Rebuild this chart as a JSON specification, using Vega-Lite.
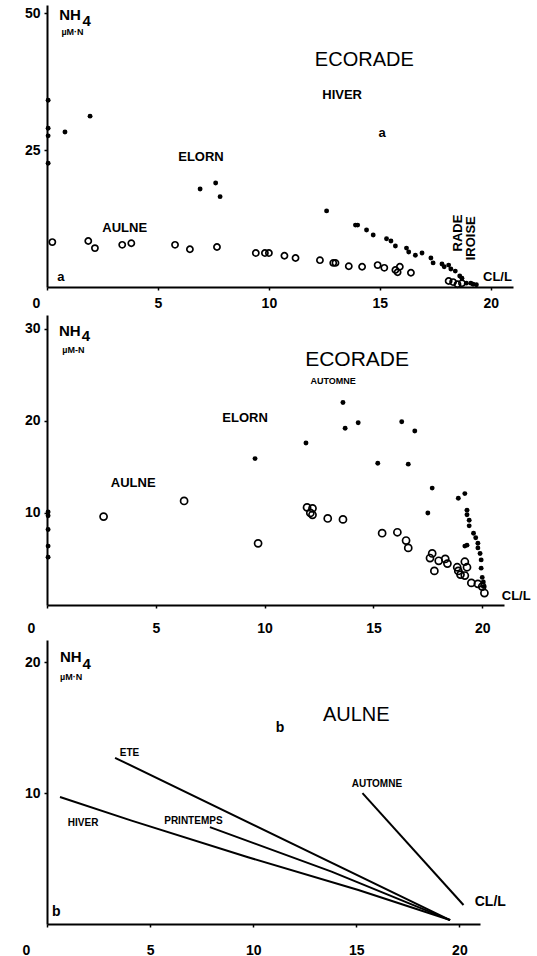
{
  "$schema": "https://vega.github.io/schema/vega-lite/v6.json",
  "padding": {"top": 5, "left": 5, "right": 5, "bottom": 0},
  "spacing": 5,
  "background": "white",
  "config": {
    "view": {"stroke": null},
    "axis": {
      "grid": false,
      "domainColor": "black",
      "domainWidth": 2,
      "tickColor": "black",
      "tickWidth": 1.5,
      "tickSize": 3,
      "labelColor": "black",
      "labelFont": "Liberation Sans",
      "labelFontWeight": "bold",
      "labelFontSize": 14
    },
    "text": {"font": "Liberation Sans", "color": "black"}
  },
  "datasets": {
    "hiver": [
      {"x": 0.05, "y": 34.1, "f": "plein"}, {"x": 0.05, "y": 29.0, "f": "plein"}, {"x": 0.05, "y": 27.6, "f": "plein"}, {"x": 0.05, "y": 22.6, "f": "plein"},
      {"x": 0.81, "y": 28.3, "f": "plein"}, {"x": 1.94, "y": 31.2, "f": "plein"}, {"x": 6.9, "y": 17.9, "f": "plein"}, {"x": 7.6, "y": 19.0, "f": "plein"}, {"x": 7.8, "y": 16.5, "f": "plein"},
      {"x": 12.6, "y": 13.9, "f": "plein"}, {"x": 13.9, "y": 11.3, "f": "plein"}, {"x": 14.0, "y": 11.3, "f": "plein"}, {"x": 14.4, "y": 10.4, "f": "plein"}, {"x": 14.7, "y": 9.5, "f": "plein"},
      {"x": 15.3, "y": 8.8, "f": "plein"}, {"x": 15.5, "y": 8.4, "f": "plein"}, {"x": 15.7, "y": 7.5, "f": "plein"}, {"x": 16.2, "y": 7.1, "f": "plein"}, {"x": 16.3, "y": 6.4, "f": "plein"},
      {"x": 16.6, "y": 5.8, "f": "plein"}, {"x": 16.9, "y": 6.2, "f": "plein"}, {"x": 17.3, "y": 5.3, "f": "plein"}, {"x": 17.4, "y": 4.4, "f": "plein"}, {"x": 17.8, "y": 4.2, "f": "plein"},
      {"x": 17.9, "y": 3.7, "f": "plein"}, {"x": 18.1, "y": 4.0, "f": "plein"}, {"x": 18.2, "y": 3.3, "f": "plein"}, {"x": 18.4, "y": 2.9, "f": "plein"}, {"x": 18.6, "y": 2.0, "f": "plein"},
      {"x": 18.7, "y": 1.6, "f": "plein"}, {"x": 18.9, "y": 0.7, "f": "plein"}, {"x": 19.1, "y": 0.7, "f": "plein"}, {"x": 19.2, "y": 0.5, "f": "plein"}, {"x": 19.35, "y": 0.4, "f": "plein"},
      {"x": 0.24, "y": 8.2, "f": "vide"}, {"x": 1.86, "y": 8.4, "f": "vide"}, {"x": 2.16, "y": 7.1, "f": "vide"}, {"x": 3.39, "y": 7.7, "f": "vide"}, {"x": 3.8, "y": 8.0, "f": "vide"},
      {"x": 5.77, "y": 7.7, "f": "vide"}, {"x": 6.44, "y": 6.9, "f": "vide"}, {"x": 7.66, "y": 7.3, "f": "vide"}, {"x": 9.41, "y": 6.2, "f": "vide"}, {"x": 9.82, "y": 6.2, "f": "vide"},
      {"x": 10.0, "y": 6.2, "f": "vide"}, {"x": 10.7, "y": 5.7, "f": "vide"}, {"x": 11.2, "y": 5.3, "f": "vide"}, {"x": 12.3, "y": 4.9, "f": "vide"}, {"x": 12.9, "y": 4.4, "f": "vide"},
      {"x": 13.0, "y": 4.4, "f": "vide"}, {"x": 13.6, "y": 3.8, "f": "vide"}, {"x": 14.2, "y": 3.7, "f": "vide"}, {"x": 14.9, "y": 4.0, "f": "vide"}, {"x": 15.2, "y": 3.5, "f": "vide"},
      {"x": 15.7, "y": 3.1, "f": "vide"}, {"x": 15.9, "y": 3.7, "f": "vide"}, {"x": 15.8, "y": 2.7, "f": "vide"}, {"x": 16.4, "y": 2.6, "f": "vide"}, {"x": 18.1, "y": 1.1, "f": "vide"},
      {"x": 18.3, "y": 0.9, "f": "vide"}, {"x": 18.5, "y": 0.5, "f": "vide"}, {"x": 18.7, "y": 0.7, "f": "vide"}
    ],
    "automne": [
      {"x": 0.05, "y": 10.1, "f": "plein"}, {"x": 0.05, "y": 9.7, "f": "plein"}, {"x": 0.05, "y": 8.2, "f": "plein"}, {"x": 0.05, "y": 6.4, "f": "plein"}, {"x": 0.05, "y": 5.2, "f": "plein"},
      {"x": 9.56, "y": 15.9, "f": "plein"}, {"x": 11.9, "y": 17.6, "f": "plein"}, {"x": 13.6, "y": 22.0, "f": "plein"}, {"x": 13.7, "y": 19.2, "f": "plein"}, {"x": 14.3, "y": 19.8, "f": "plein"},
      {"x": 15.2, "y": 15.4, "f": "plein"}, {"x": 16.3, "y": 19.9, "f": "plein"}, {"x": 16.6, "y": 15.3, "f": "plein"}, {"x": 16.9, "y": 18.9, "f": "plein"}, {"x": 17.7, "y": 12.7, "f": "plein"},
      {"x": 17.5, "y": 10.0, "f": "plein"}, {"x": 18.9, "y": 11.6, "f": "plein"}, {"x": 19.2, "y": 12.1, "f": "plein"}, {"x": 19.3, "y": 10.3, "f": "plein"}, {"x": 19.3, "y": 9.8, "f": "plein"},
      {"x": 19.4, "y": 9.2, "f": "plein"}, {"x": 19.4, "y": 8.6, "f": "plein"}, {"x": 19.6, "y": 7.8, "f": "plein"}, {"x": 19.7, "y": 7.3, "f": "plein"}, {"x": 19.8, "y": 6.7, "f": "plein"},
      {"x": 19.8, "y": 6.2, "f": "plein"}, {"x": 19.9, "y": 5.6, "f": "plein"}, {"x": 19.95, "y": 4.9, "f": "plein"}, {"x": 19.95, "y": 4.0, "f": "plein"}, {"x": 20.0, "y": 3.0, "f": "plein"},
      {"x": 20.05, "y": 2.5, "f": "plein"}, {"x": 20.05, "y": 2.0, "f": "plein"}, {"x": 19.2, "y": 6.4, "f": "plein"}, {"x": 19.3, "y": 6.5, "f": "plein"},
      {"x": 2.6, "y": 9.6, "f": "vide"}, {"x": 6.3, "y": 11.3, "f": "vide"}, {"x": 9.7, "y": 6.7, "f": "vide"}, {"x": 11.95, "y": 10.6, "f": "vide"}, {"x": 12.2, "y": 10.5, "f": "vide"},
      {"x": 12.1, "y": 10.0, "f": "vide"}, {"x": 12.2, "y": 9.8, "f": "vide"}, {"x": 12.9, "y": 9.4, "f": "vide"}, {"x": 13.6, "y": 9.3, "f": "vide"}, {"x": 15.4, "y": 7.8, "f": "vide"},
      {"x": 16.1, "y": 7.9, "f": "vide"}, {"x": 16.5, "y": 7.0, "f": "vide"}, {"x": 16.6, "y": 6.2, "f": "vide"}, {"x": 17.7, "y": 5.6, "f": "vide"}, {"x": 17.6, "y": 5.1, "f": "vide"},
      {"x": 18.0, "y": 4.8, "f": "vide"}, {"x": 17.8, "y": 3.7, "f": "vide"}, {"x": 18.3, "y": 5.0, "f": "vide"}, {"x": 18.4, "y": 4.5, "f": "vide"}, {"x": 18.85, "y": 4.1, "f": "vide"},
      {"x": 18.9, "y": 3.7, "f": "vide"}, {"x": 19.0, "y": 3.3, "f": "vide"}, {"x": 19.2, "y": 4.7, "f": "vide"}, {"x": 19.3, "y": 4.1, "f": "vide"}, {"x": 19.2, "y": 3.2, "f": "vide"},
      {"x": 19.5, "y": 2.4, "f": "vide"}, {"x": 19.8, "y": 2.3, "f": "vide"}, {"x": 20.0, "y": 2.0, "f": "vide"}, {"x": 20.1, "y": 1.3, "f": "vide"}
    ],
    "aulne": [
      {"s": "ETE", "x": 3.3, "y": 12.7}, {"s": "ETE", "x": 19.55, "y": 0.3},
      {"s": "HIVER", "x": 0.63, "y": 9.7}, {"s": "HIVER", "x": 4.1, "y": 7.9}, {"s": "HIVER", "x": 9.75, "y": 5.1}, {"s": "HIVER", "x": 15.1, "y": 2.6}, {"s": "HIVER", "x": 19.55, "y": 0.3},
      {"s": "PRINTEMPS", "x": 7.9, "y": 7.4}, {"s": "PRINTEMPS", "x": 13.8, "y": 4.0}, {"s": "PRINTEMPS", "x": 19.55, "y": 0.3},
      {"s": "AUTOMNE", "x": 15.3, "y": 10.0}, {"s": "AUTOMNE", "x": 20.2, "y": 1.45}
    ],
    "labels_a": [
      {"t": "NH", "x": 0.55, "y": 49.6, "r": "nh"}, {"t": "4", "x": 1.6, "y": 48.6, "r": "nh"},
      {"t": "µM·N", "x": 0.65, "y": 46.6, "r": "unit"},
      {"t": "ECORADE", "x": 14.3, "y": 41.4, "r": "title"},
      {"t": "HIVER", "x": 13.3, "y": 35.0, "r": "label"},
      {"t": "a", "x": 15.1, "y": 28.1, "r": "label"},
      {"t": "ELORN", "x": 6.94, "y": 23.7, "r": "label"},
      {"t": "AULNE", "x": 3.5, "y": 10.8, "r": "label"},
      {"t": "a", "x": 0.63, "y": 1.8, "r": "label"},
      {"t": "CL/L", "x": 20.3, "y": 1.8, "r": "label"},
      {"t": "RADE", "x": 18.5, "y": 9.85, "r": "vert"},
      {"t": "IROISE", "x": 19.1, "y": 8.9, "r": "vert"}
    ],
    "labels_b": [
      {"t": "NH", "x": 0.55, "y": 29.8, "r": "nh"}, {"t": "4", "x": 1.6, "y": 29.2, "r": "nh"},
      {"t": "µM-N", "x": 0.7, "y": 27.7, "r": "unit"},
      {"t": "ECORADE", "x": 14.25, "y": 26.6, "r": "title"},
      {"t": "AUTOMNE", "x": 13.15, "y": 24.3, "r": "small"},
      {"t": "ELORN", "x": 9.1, "y": 20.3, "r": "label"},
      {"t": "AULNE", "x": 3.96, "y": 13.3, "r": "label"},
      {"t": "CL/L", "x": 21.56, "y": 1.0, "r": "label"}
    ],
    "labels_c": [
      {"t": "NH", "x": 0.63, "y": 20.4, "r": "nh"}, {"t": "4", "x": 1.72, "y": 19.9, "r": "nh"},
      {"t": "µM·N", "x": 0.63, "y": 18.85, "r": "unit"},
      {"t": "AULNE", "x": 15.0, "y": 16.0, "r": "title"},
      {"t": "b", "x": 11.3, "y": 15.0, "r": "label"},
      {"t": "ETE", "x": 4.0, "y": 13.1, "r": "small"},
      {"t": "AUTOMNE", "x": 16.0, "y": 10.7, "r": "small"},
      {"t": "HIVER", "x": 1.75, "y": 7.7, "r": "small"},
      {"t": "PRINTEMPS", "x": 7.1, "y": 7.9, "r": "small"},
      {"t": "CL/L", "x": 21.5, "y": 1.7, "r": "label"},
      {"t": "b", "x": 0.45, "y": 0.9, "r": "label"}
    ]
  },
  "vconcat": [
    {
      "width": 466,
      "height": 282,
      "encoding": {
        "x": {"field": "x", "type": "quantitative", "title": null,
          "scale": {"domain": [0, 21], "nice": false, "zero": false},
          "axis": {"values": [0, 5, 10, 15, 20], "labelPadding": 6,
            "labelOffset": {"condition": {"test": "datum.value === 0", "value": -15}, "value": 0}}},
        "y": {"field": "y", "type": "quantitative", "title": null,
          "scale": {"domain": [0, 51.5], "nice": false, "zero": false},
          "axis": {"values": [25, 50], "labelPadding": 4, "minExtent": 42}}
      },
      "layer": [
        {"data": {"name": "hiver"}, "transform": [{"filter": "datum.f === 'plein'"}],
          "mark": {"type": "circle", "size": 24, "color": "black", "opacity": 1}},
        {"data": {"name": "hiver"}, "transform": [{"filter": "datum.f === 'vide'"}],
          "mark": {"type": "point", "shape": "circle", "filled": false, "size": 38, "strokeWidth": 1.7, "color": "black", "opacity": 1}},
        {"data": {"name": "labels_a"}, "transform": [{"filter": "datum.r === 'nh'"}],
          "mark": {"type": "text", "fontSize": 15, "fontWeight": "bold", "align": "left", "baseline": "middle"},
          "encoding": {"text": {"field": "t"}}},
        {"data": {"name": "labels_a"}, "transform": [{"filter": "datum.r === 'unit'"}],
          "mark": {"type": "text", "fontSize": 9, "fontWeight": "bold", "align": "left", "baseline": "middle"},
          "encoding": {"text": {"field": "t"}}},
        {"data": {"name": "labels_a"}, "transform": [{"filter": "datum.r === 'title'"}],
          "mark": {"type": "text", "fontSize": 20, "align": "center", "baseline": "middle"},
          "encoding": {"text": {"field": "t"}}},
        {"data": {"name": "labels_a"}, "transform": [{"filter": "datum.r === 'label'"}],
          "mark": {"type": "text", "fontSize": 13, "fontWeight": "bold", "align": "center", "baseline": "middle"},
          "encoding": {"text": {"field": "t"}}},
        {"data": {"name": "labels_a"}, "transform": [{"filter": "datum.r === 'vert'"}],
          "mark": {"type": "text", "fontSize": 13, "fontWeight": "bold", "align": "center", "baseline": "middle", "angle": 270},
          "encoding": {"text": {"field": "t"}}}
      ]
    },
    {
      "width": 457,
      "height": 290,
      "encoding": {
        "x": {"field": "x", "type": "quantitative", "title": null,
          "scale": {"domain": [0, 21], "nice": false, "zero": false},
          "axis": {"values": [0, 5, 10, 15, 20], "labelPadding": 13,
            "labelOffset": {"condition": {"test": "datum.value === 0", "value": -20}, "value": 0}}},
        "y": {"field": "y", "type": "quantitative", "title": null,
          "scale": {"domain": [0, 31.5], "nice": false, "zero": false},
          "axis": {"values": [10, 20, 30], "labelPadding": 4, "minExtent": 42}}
      },
      "layer": [
        {"data": {"name": "automne"}, "transform": [{"filter": "datum.f === 'plein'"}],
          "mark": {"type": "circle", "size": 24, "color": "black", "opacity": 1}},
        {"data": {"name": "automne"}, "transform": [{"filter": "datum.f === 'vide'"}],
          "mark": {"type": "point", "shape": "circle", "filled": false, "size": 50, "strokeWidth": 1.7, "color": "black", "opacity": 1}},
        {"data": {"name": "labels_b"}, "transform": [{"filter": "datum.r === 'nh'"}],
          "mark": {"type": "text", "fontSize": 15, "fontWeight": "bold", "align": "left", "baseline": "middle"},
          "encoding": {"text": {"field": "t"}}},
        {"data": {"name": "labels_b"}, "transform": [{"filter": "datum.r === 'unit'"}],
          "mark": {"type": "text", "fontSize": 9, "fontWeight": "bold", "align": "left", "baseline": "middle"},
          "encoding": {"text": {"field": "t"}}},
        {"data": {"name": "labels_b"}, "transform": [{"filter": "datum.r === 'title'"}],
          "mark": {"type": "text", "fontSize": 21, "align": "center", "baseline": "middle"},
          "encoding": {"text": {"field": "t"}}},
        {"data": {"name": "labels_b"}, "transform": [{"filter": "datum.r === 'small'"}],
          "mark": {"type": "text", "fontSize": 9, "fontWeight": "bold", "align": "center", "baseline": "middle"},
          "encoding": {"text": {"field": "t"}}},
        {"data": {"name": "labels_b"}, "transform": [{"filter": "datum.r === 'label'"}],
          "mark": {"type": "text", "fontSize": 13, "fontWeight": "bold", "align": "center", "baseline": "middle"},
          "encoding": {"text": {"field": "t"}}}
      ]
    },
    {
      "width": 433,
      "height": 284,
      "encoding": {
        "x": {"field": "x", "type": "quantitative", "title": null,
          "scale": {"domain": [0, 21], "nice": false, "zero": false},
          "axis": {"values": [0, 5, 10, 15, 20], "labelPadding": 16,
            "labelOffset": {"condition": {"test": "datum.value === 0", "value": -25}, "value": 0}}},
        "y": {"field": "y", "type": "quantitative", "title": null,
          "scale": {"domain": [0, 21.7], "nice": false, "zero": false},
          "axis": {"values": [10, 20], "labelPadding": 4, "minExtent": 42}}
      },
      "layer": [
        {"data": {"name": "aulne"},
          "mark": {"type": "line", "color": "black", "strokeWidth": 2},
          "encoding": {"detail": {"field": "s"}}},
        {"data": {"name": "labels_c"}, "transform": [{"filter": "datum.r === 'nh'"}],
          "mark": {"type": "text", "fontSize": 15, "fontWeight": "bold", "align": "left", "baseline": "middle"},
          "encoding": {"text": {"field": "t"}}},
        {"data": {"name": "labels_c"}, "transform": [{"filter": "datum.r === 'unit'"}],
          "mark": {"type": "text", "fontSize": 9, "fontWeight": "bold", "align": "left", "baseline": "middle"},
          "encoding": {"text": {"field": "t"}}},
        {"data": {"name": "labels_c"}, "transform": [{"filter": "datum.r === 'title'"}],
          "mark": {"type": "text", "fontSize": 20, "align": "center", "baseline": "middle"},
          "encoding": {"text": {"field": "t"}}},
        {"data": {"name": "labels_c"}, "transform": [{"filter": "datum.r === 'small'"}],
          "mark": {"type": "text", "fontSize": 10, "fontWeight": "bold", "align": "center", "baseline": "middle"},
          "encoding": {"text": {"field": "t"}}},
        {"data": {"name": "labels_c"}, "transform": [{"filter": "datum.r === 'label'"}],
          "mark": {"type": "text", "fontSize": 14, "fontWeight": "bold", "align": "center", "baseline": "middle"},
          "encoding": {"text": {"field": "t"}}}
      ]
    }
  ]
}
